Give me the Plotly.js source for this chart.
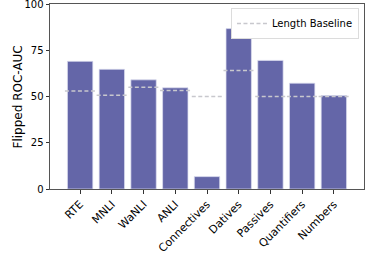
<!DOCTYPE html>
<html><head><meta charset="utf-8">
<script src="https://cdn.plot.ly/plotly-3.0.1.min.js"></script>
<style>html,body{margin:0;padding:0;background:#fff}</style>
</head><body><div id="chart" style="width:365px;height:254px"></div>
<script>
const categories = ["RTE","MNLI","WaNLI","ANLI","Connectives","Datives","Passives","Quantifiers","Numbers"];
const rocAuc = [69, 64.7, 59, 54.7, 6.7, 86.7, 69.5, 57.2, 50.5];
const lengthBaseline = [53, 50.7, 55, 53.2, 50, 64, 50, 50, 50];
const yTicks = [0, 25, 50, 75, 100];
const yTitle = 'Flipped ROC-AUC';

const idx = categories.map((_, i) => i);
const bx = [], by = [];
lengthBaseline.forEach((v, i) => { bx.push(i - 0.48, i + 0.48, null); by.push(v, v, null); });

const traces = [
  {type: 'bar', x: idx, y: rocAuc, width: 0.8, showlegend: false,
   marker: {color: 'rgb(100,102,168)', line: {color: 'rgba(220,222,240,0.9)', width: 0.8}}},
  {type: 'scatter', mode: 'lines', x: bx, y: by, name: 'Length Baseline',
   line: {color: 'rgb(200,200,205)', width: 1.5, dash: '4px,2.5px'}}
];
const layout = {
  width: 365, height: 254,
  margin: {l: 50, r: 1, t: 4, b: 65, autoexpand: false},
  paper_bgcolor: '#fff', plot_bgcolor: '#fff',
  font: {family: 'DejaVu Sans', size: 10, color: '#000'},
  showlegend: true,
  legend: {x: 0.984, y: 0.978, xanchor: 'right', yanchor: 'top', bgcolor: '#fff',
    bordercolor: 'rgb(220,220,220)', borderwidth: 1, font: {size: 10}, itemwidth: 30,
    tracegroupgap: 0},
  xaxis: {range: [-0.95, 8.95], tickvals: idx, ticktext: categories, tickangle: -45,
    ticks: 'outside', ticklen: 3.5, tickcolor: '#333', showgrid: false, zeroline: false,
    showline: true, mirror: true, linecolor: '#555', linewidth: 1, tickfont: {size: 11},
    automargin: false},
  yaxis: {range: [0, 100], tickvals: yTicks, ticks: 'outside', ticklen: 3.5, tickcolor: '#333',
    showgrid: false, zeroline: false, showline: true, mirror: true, linecolor: '#555', linewidth: 1,
    automargin: false, ticklabeloverflow: 'allow', tickfont: {size: 10}},
  annotations: [{text: yTitle, xref: 'paper', yref: 'paper', x: -0.102, y: 0.5,
    xanchor: 'center', yanchor: 'middle', textangle: -90, showarrow: false, font: {size: 12}}]
};
Plotly.newPlot('chart', traces, layout, {displayModeBar: false, staticPlot: true});
</script></body></html>
